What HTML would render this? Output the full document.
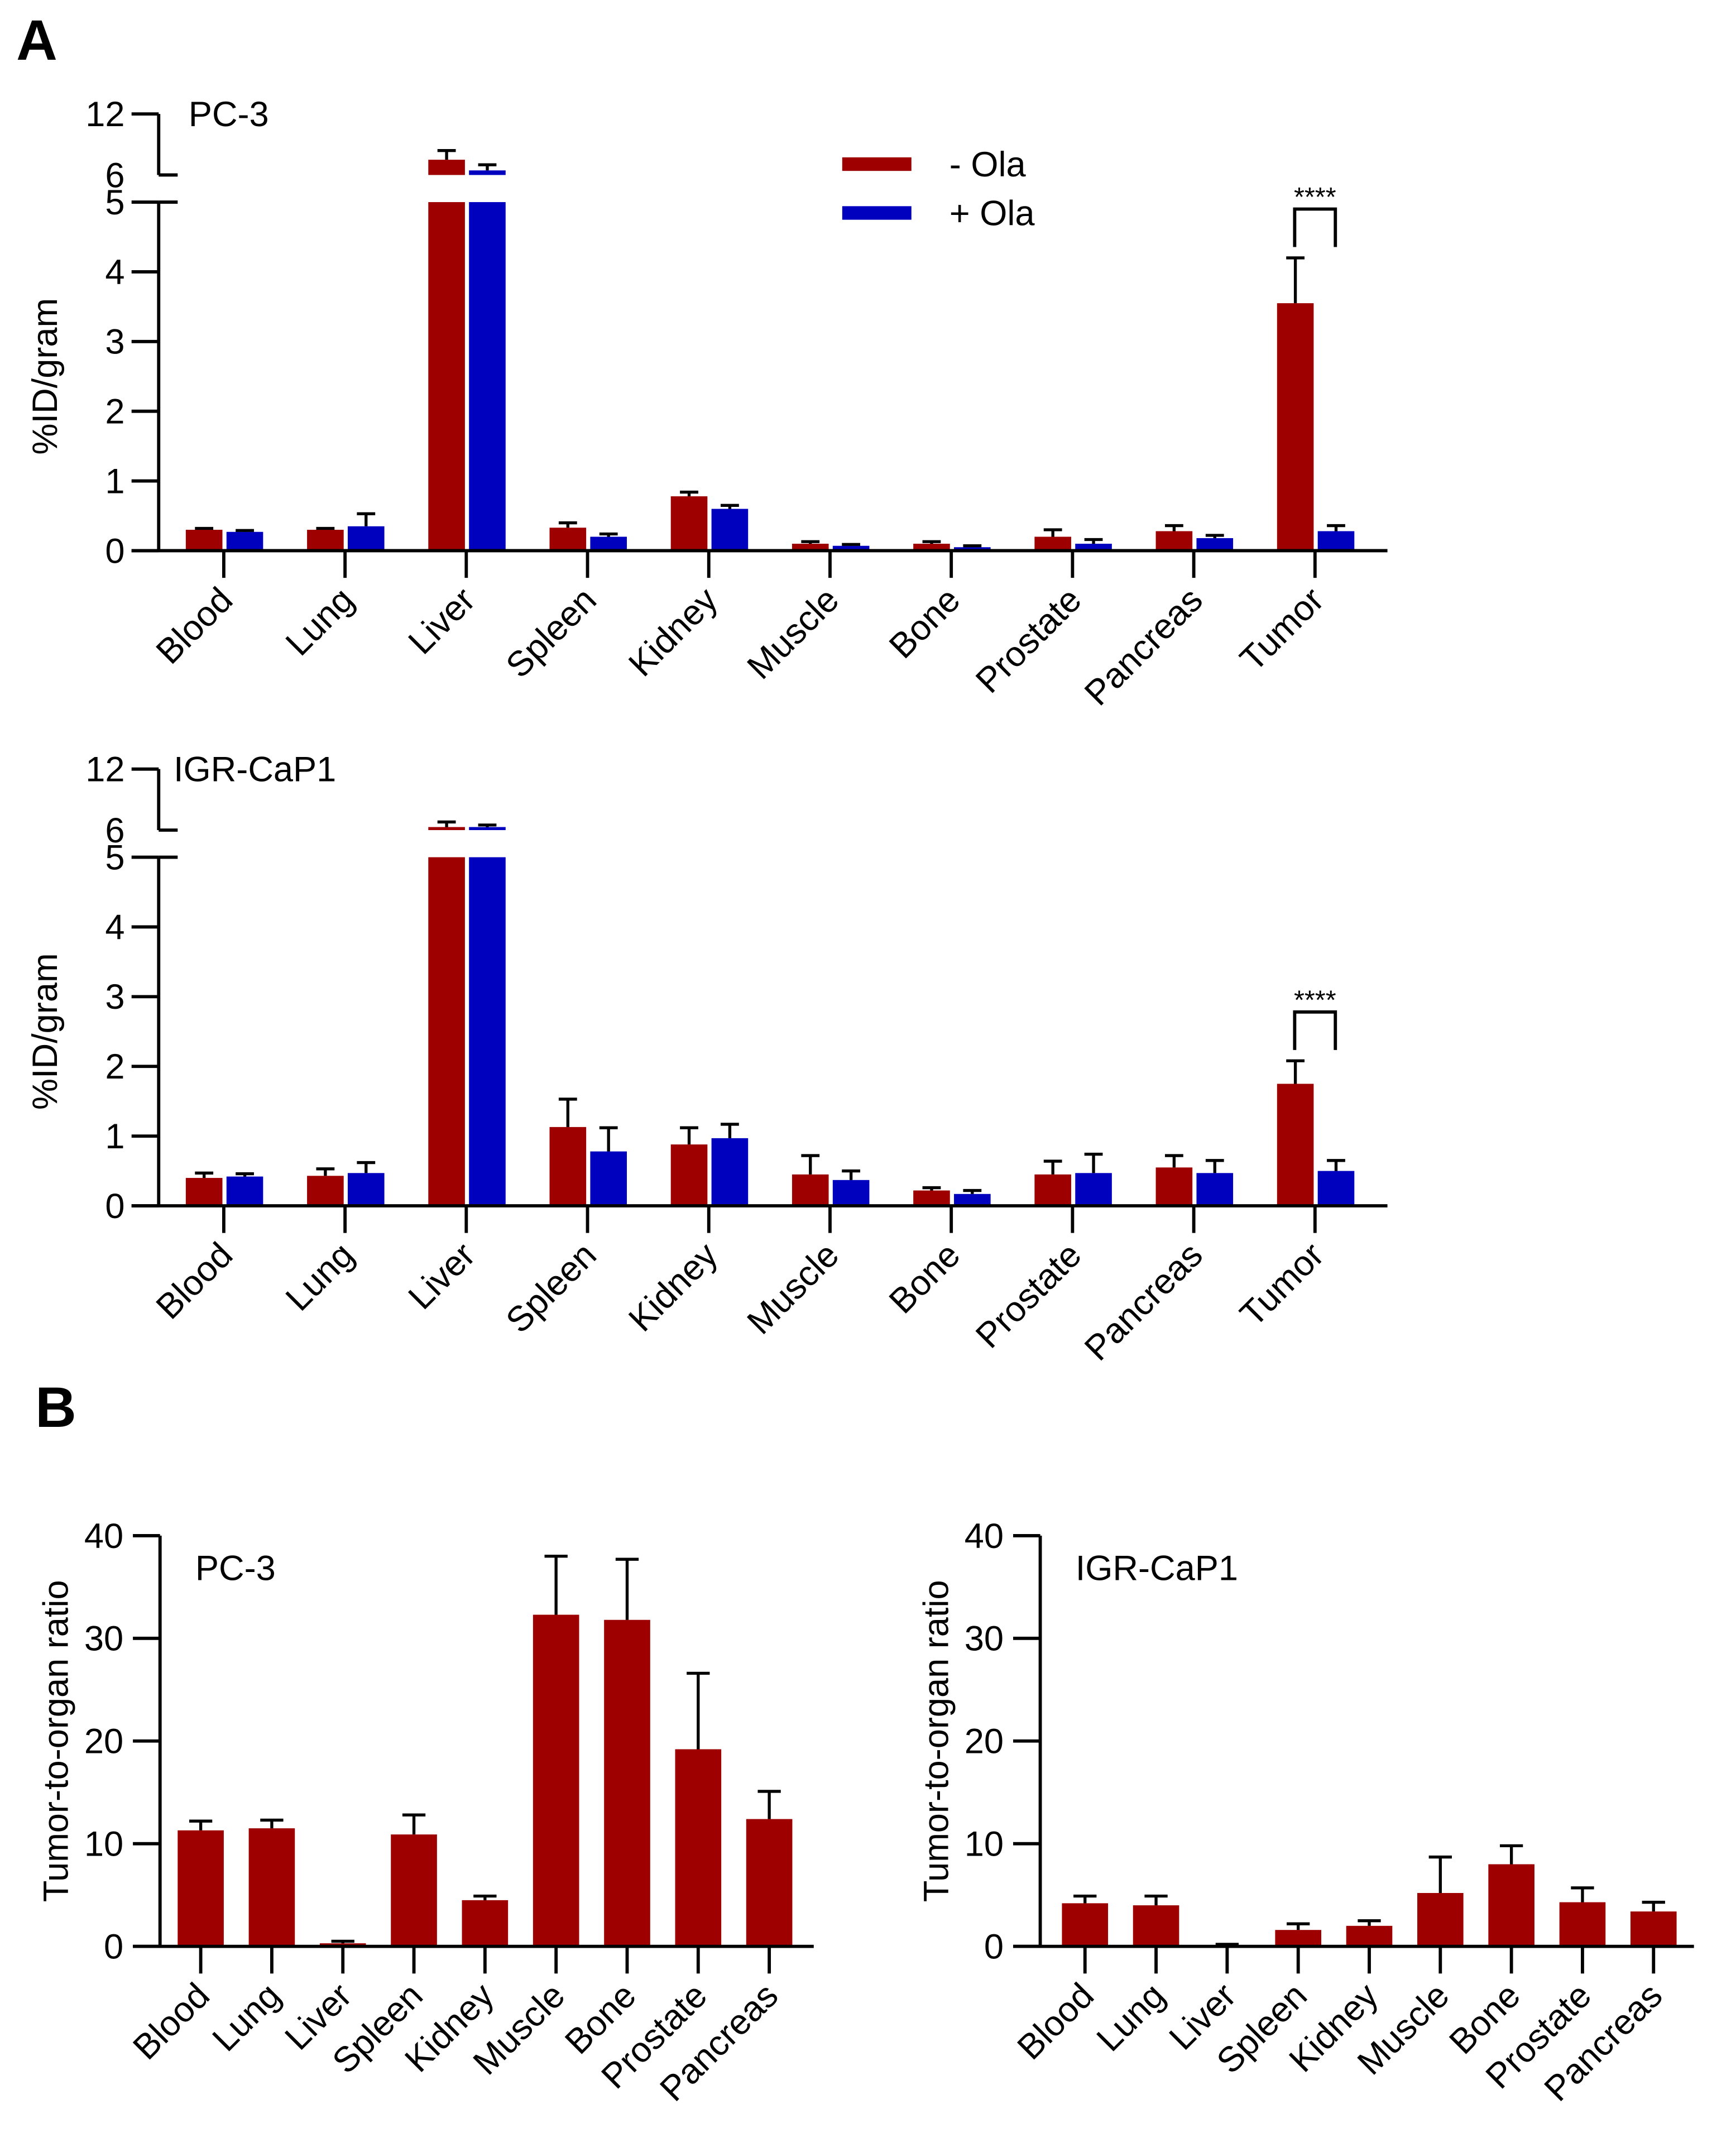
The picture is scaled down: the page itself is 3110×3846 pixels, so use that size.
<!DOCTYPE html>
<html><head><meta charset="utf-8"><style>
html,body{margin:0;padding:0;background:#fff;}
svg{display:block;font-family:"Liberation Sans",Arial,sans-serif;}
</style></head><body>
<svg id="fig" width="3110" height="3846" viewBox="0 0 1280 1582.9" xmlns="http://www.w3.org/2000/svg">
<rect width="1280" height="1582.9" fill="#fff"/>
<text x="12" y="44" font-size="42" font-weight="bold">A</text>
<text x="26" y="1052" font-size="42" font-weight="bold">B</text>
<g>
<rect x="621" y="116" width="51" height="10" fill="#9e0000"/>
<rect x="621" y="152" width="51" height="10" fill="#0000bf"/>
<text x="700" y="130" font-size="26">-  Ola</text>
<text x="700" y="166" font-size="26">+ Ola</text>
</g>
<g id="chart"></g>
</svg>
<script>
const organsA = ["Blood","Lung","Liver","Spleen","Kidney","Muscle","Bone","Prostate","Pancreas","Tumor"];
const a1Minus = [0.30,0.30,7.5,0.33,0.78,0.10,0.10,0.20,0.28,3.55];
const a1MinusErr = [0.32,0.32,8.4,0.40,0.84,0.13,0.13,0.30,0.36,4.20];
const a1Plus = [0.27,0.35,6.45,0.20,0.60,0.07,0.05,0.10,0.18,0.28];
const a1PlusErr = [0.29,0.53,7.0,0.24,0.65,0.09,0.07,0.16,0.22,0.36];
const a2Minus = [0.40,0.43,6.3,1.13,0.88,0.45,0.22,0.45,0.55,1.75];
const a2MinusErr = [0.47,0.53,6.8,1.53,1.12,0.72,0.26,0.64,0.72,2.08];
const a2Plus = [0.42,0.47,6.3,0.78,0.97,0.37,0.17,0.47,0.47,0.50];
const a2PlusErr = [0.46,0.62,6.5,1.12,1.17,0.50,0.22,0.74,0.65,0.65];
const yTicksLow = [0,1,2,3,4,5];
const yTicksHigh = [6,12];
const organsB = ["Blood","Lung","Liver","Spleen","Kidney","Muscle","Bone","Prostate","Pancreas"];
const bPC3 = [11.3,11.5,0.3,10.9,4.5,32.3,31.8,19.2,12.4];
const bPC3Err = [12.2,12.3,0.5,12.8,4.9,38.0,37.7,26.6,15.1];
const bIGR = [4.2,4.0,0.1,1.6,2.0,5.2,8.0,4.3,3.4];
const bIGRErr = [4.9,4.9,0.2,2.2,2.5,8.7,9.8,5.7,4.3];
const yTicksB = [0,10,20,30,40];

const NS="http://www.w3.org/2000/svg";
const root=document.getElementById('chart');
const RED="#9e0000", BLUE="#0000bf";
const FS=26;
function mk(tag,attrs,parent){const e=document.createElementNS(NS,tag);for(const k in attrs)e.setAttribute(k,attrs[k]);(parent||root).appendChild(e);return e;}
function line(x1,y1,x2,y2,p,w){return mk('line',{x1,y1,x2,y2,stroke:'#000','stroke-width':w||2.4},p);}

function panelA(g0, zeroY, minus, minusErr, plus, plusErr, title){
  const g=mk('g',{});
  
  
  const unit=51.4, y5=zeroY-5*unit, y6=y5-20, y12=y6-45;
  const yLow=v=>zeroY-v*unit;
  const yHigh=v=>y6-(v-6)*(45/6);
  const yv=v=>v<=5?yLow(v):yHigh(Math.max(v,6));
  const axX=117, x0=165, dx=89.4, bw=27;
  const xc=i=>x0+i*dx;
  [[minus,minusErr,RED,-28,'minus-ola'],[plus,plusErr,BLUE,2,'plus-ola']].forEach(([vals,errs,col,off,nm])=>{
    vals.forEach((v,i)=>{
      const bx=xc(i)+off;
      if(v<=5){
        const b=mk('rect',{x:bx,y:yLow(v),width:bw,height:zeroY-yLow(v),fill:col},g);
        
        
      } else {
        const b=mk('rect',{x:bx,y:y5,width:bw,height:zeroY-y5,fill:col},g);
        
        
        const b2=mk('rect',{x:bx,y:yHigh(v),width:bw,height:y6-yHigh(v),fill:col},g);
        
        
      }
      const cx=bx+bw/2, e=errs[i];
      const ey=yv(e), ty=yv(v);
      line(cx,ty,cx,ey,g,2.2);
      line(cx-bw/4,ey,cx+bw/4,ey,g,2.2);
    });
  });
  line(axX,zeroY+1,axX,y5,g);
  line(axX,y6,axX,y12,g);
  line(97,zeroY,1023,zeroY,g);
  yTicksLow.forEach(t=>{const y=yLow(t);line(97,y,axX,y,g);
    const tx=mk('text',{x:92,y:y+9,'font-size':FS,'text-anchor':'end'},g);tx.textContent=t;
    
    });
  yTicksHigh.forEach(t=>{const y=yHigh(t);
    if(t===6) line(axX,y,axX+14,y,g); else line(97,y,axX,y,g);
    const tx=mk('text',{x:92,y:y+9,'font-size':FS,'text-anchor':'end'},g);tx.textContent=t;
    
    });
  line(axX,y5,axX+14,y5,g);
  organsA.forEach((o,i)=>{const x=xc(i);line(x,zeroY,x,zeroY+20,g);
    const tx=mk('text',{x:x+8,y:zeroY+38,'font-size':FS,'text-anchor':'end',transform:`rotate(-45 ${x+8} ${zeroY+38})`},g);tx.textContent=o;
    
    });
  const yt=mk('text',{x:0,y:0,'font-size':FS,'text-anchor':'middle',transform:`translate(42 ${(zeroY+y5)/2}) rotate(-90)`},g);
  yt.textContent='%ID/gram';
  
  
  const tt=mk('text',{x:title[1],y:y12+9,'font-size':FS},g);tt.textContent=title[0];
  
  
  const ti=9, l=xc(ti)-15, r=xc(ti)+15;
  const top=yv(minusErr[ti])-36;
  const p=mk('path',{d:`M${l} ${top+28} V${top} H${r} V${top+28}`,fill:'none',stroke:'#000','stroke-width':2.4},g);
  
  
  const st=mk('text',{x:(l+r)/2,y:top-2,'font-size':20,'text-anchor':'middle'},g);st.textContent='****';
  
  
}

function panelB(nm, axX, x0, vals, errs, title){
  const g=mk('g',{});
  
  
  const zeroY=1435, unit=7.57, dx=52.4, bw=34;
  const y=v=>zeroY-v*unit;
  const xc=i=>x0+i*dx;
  vals.forEach((v,i)=>{
    const b=mk('rect',{x:xc(i)-bw/2,y:y(v),width:bw,height:zeroY-y(v),fill:RED},g);
    
    
    const cx=xc(i);
    line(cx,y(v),cx,y(errs[i]),g,2.2);
    line(cx-bw/4,y(errs[i]),cx+bw/4,y(errs[i]),g,2.2);
  });
  line(axX,zeroY+1,axX,y(40),g);
  line(axX-20,zeroY,axX+482,zeroY,g);
  yTicksB.forEach(t=>{line(axX-20,y(t),axX,y(t),g);
    const tx=mk('text',{x:axX-27,y:y(t)+9,'font-size':FS,'text-anchor':'end'},g);tx.textContent=t;
    
    });
  organsB.forEach((o,i)=>{const x=xc(i);line(x,zeroY,x,zeroY+20,g);
    const tx=mk('text',{x:x+8,y:zeroY+38,'font-size':FS,'text-anchor':'end',transform:`rotate(-45 ${x+8} ${zeroY+38})`},g);tx.textContent=o;
    
    });
  const yt=mk('text',{x:0,y:0,'font-size':FS,'text-anchor':'middle',transform:`translate(${axX-68} ${y(20)}) rotate(-90)`},g);
  yt.textContent='Tumor-to-organ ratio';
  
  
  const tt=mk('text',{x:axX+26,y:1165,'font-size':FS},g);tt.textContent=title;
  
  
}

panelA('a-pc3',406,a1Minus,a1MinusErr,a1Plus,a1PlusErr,['PC-3',139]);
panelA('a-igrcap1',889,a2Minus,a2MinusErr,a2Plus,a2PlusErr,['IGR-CaP1',128]);
panelB('b-pc3',118,148,bPC3,bPC3Err,'PC-3');
panelB('b-igrcap1',767,800,bIGR,bIGRErr,'IGR-CaP1');
</script>
</body></html>
